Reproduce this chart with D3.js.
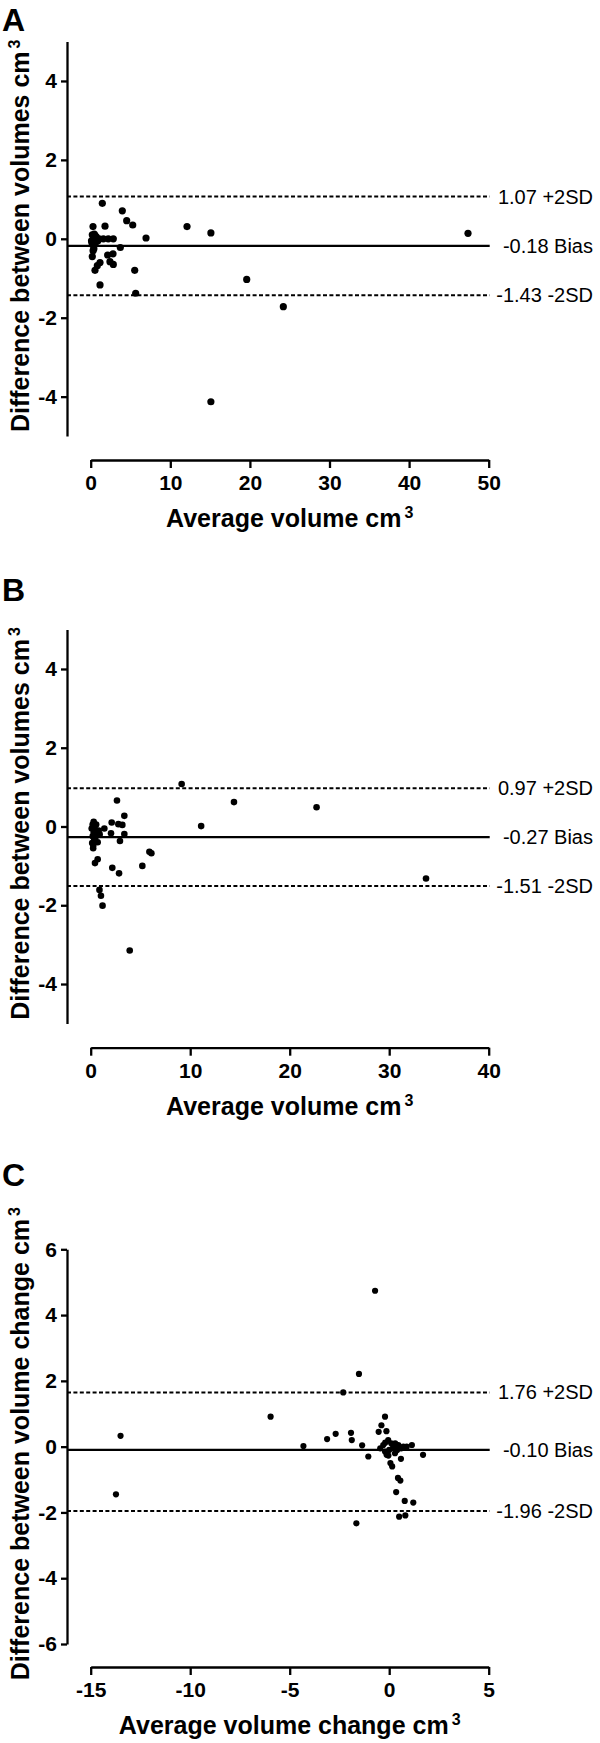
<!DOCTYPE html>
<html><head><meta charset="utf-8">
<script src="https://cdn.jsdelivr.net/npm/d3@7"></script>
<style>
body{margin:0;background:#fff;}
svg{display:block;}
text{font-family:"Liberation Sans",Arial,Helvetica,sans-serif;fill:#000;}
</style></head><body>
<svg id="chart" width="600" height="1743"></svg>
<script>
// ---------- Data ----------
// Panel A: [average volume, difference]
const pointsA = [
  [1.46,0.90],[3.97,0.71],[4.52,0.46],[5.28,0.35],[6.95,0.02],[12.1,0.31],[15.1,0.15],[47.4,0.14],
  [19.6,-1.03],[24.2,-1.72],[15.1,-4.13],[5.65,-1.38],[5.53,-0.80],[1.17,-1.17],[3.72,-0.22],
  [0.29,0.31],[1.80,0.32],[1.59,0.00],[2.21,0.00],[2.84,0.00],[0.20,-0.45],[2.13,-0.41],[2.80,-0.38],
  [1.17,-0.60],[0.83,-0.68],[0.54,-0.80],[2.42,-0.58],[2.84,-0.65],
  [0.20,0.10],[0.35,0.05],[0.50,0.00],[0.10,-0.05],[0.60,-0.10],[0.25,-0.15],[0.70,0.05],[0.40,-0.25],
  [0.45,0.12],[0.15,-0.10],[0.90,-0.05],[1.05,0.00],[0.30,-0.30],[0.55,0.08]
];
// Panel B
const pointsB = [
  [9.14,1.08],[14.4,0.62],[22.7,0.49],[11.1,0.01],[33.7,-1.32],
  [2.64,0.66],[3.38,0.27],[2.11,0.10],[2.78,0.06],[3.18,0.04],
  [2.04,-0.17],[3.38,-0.19],[2.94,-0.37],[1.37,-0.05],
  [5.9,-0.64],[6.1,-0.68],[5.19,-1.00],[2.17,-1.05],[2.85,-1.19],
  [3.92,-3.15],[0.88,-1.61],[1.03,-1.76],[1.19,-2.01],
  [0.70,-0.83],[0.43,-0.93],[0.26,-0.47],
  [0.30,0.12],[0.20,0.05],[0.40,0.00],[0.10,-0.05],[0.50,-0.10],[0.30,-0.15],[0.60,-0.20],[0.20,-0.25],
  [0.45,-0.30],[0.35,-0.35],[0.80,-0.10],[0.90,-0.20],[0.55,0.05],[0.70,-0.40],[0.15,-0.42],[0.25,-0.55]
];
// Panel C
const pointsC = [
  [-0.71,4.74],[-1.52,2.21],[-2.31,1.65],[-5.96,0.91],[-13.5,0.33],[-13.73,-1.45],
  [-4.31,0.02],[-3.12,0.23],[-2.69,0.39],[-1.92,0.42],[-1.88,0.20],[-1.36,0.04],[-1.05,-0.30],[-1.65,-2.33],
  [-0.21,0.91],[-0.39,0.65],[-0.14,0.47],[-0.53,0.45],
  [1.14,0.05],[1.70,-0.25],[0.59,-0.37],[0.35,-1.38],[0.44,-0.95],[0.56,-1.03],[0.78,-1.65],[1.21,-1.70],
  [0.50,-2.13],[0.81,-2.09],[0.15,-0.60],[0.06,-0.50],[-0.04,-0.27],
  [-0.30,0.05],[-0.05,0.20],[0.00,-0.10],[0.20,0.00],[0.46,0.05],[0.71,0.00],[0.88,0.00],[-0.21,-0.15],
  [0.29,-0.20],[-0.13,-0.25],[0.10,0.10],[-0.20,0.12],[0.30,0.10],[0.60,-0.05],[0.40,-0.10],[-0.45,-0.05]
];
// limits of agreement: [+2SD, bias, -2SD]
const limitsA = [1.07, -0.18, -1.43];
const limitsB = [0.97, -0.27, -1.51];
const limitsC = [1.76, -0.10, -1.96];
const linesC  = [1.65, -0.10, -1.96]; // where the lines are drawn in the source figure
const limitNames = ["+2SD", "Bias", "-2SD"];
const xTicksA = [0,10,20,30,40,50];
const xTicksB = [0,10,20,30,40];
const xTicksC = [-15,-10,-5,0,5];
const yTicksAB = [-4,-2,0,2,4];
const yTicksC = [-6,-4,-2,0,2,4,6];

// ---------- Drawing ----------
const svg = d3.select("#chart");
const AXIS_X = 67;
const X_RANGE = [90.7, 488.7];

function panel(cfg){
  const g = svg.append("g");
  const x = d3.scaleLinear().domain(cfg.xDomain).range(X_RANGE);
  const y = d3.scaleLinear().domain(cfg.yDomain).range(cfg.yRange);

  // panel letter
  g.append("text").attr("x", 2).attr("y", cfg.letterY)
    .attr("font-size", 32).attr("font-weight", "bold").text(cfg.letter);

  // y axis
  const ya = g.append("g").attr("transform", `translate(${AXIS_X},0)`)
    .call(d3.axisLeft(y).tickValues(cfg.yTicks).tickFormat(d => String(d))
      .tickSize(6).tickSizeOuter(0).tickPadding(4));
  // x axis
  const xa = g.append("g").attr("transform", `translate(0,${cfg.xAxisY})`)
    .call(d3.axisBottom(x).tickValues(cfg.xTicks).tickFormat(d => String(d))
      .tickSize(8).tickSizeOuter(0).tickPadding(7));
  [ya, xa].forEach(a => {
    a.select(".domain").attr("stroke", "#000").attr("stroke-width", 2.3);
    a.selectAll(".tick line").attr("stroke", "#000").attr("stroke-width", 2.3);
    a.selectAll(".tick text").attr("font-size", 21).attr("font-weight", "bold")
      .attr("font-family", '"Liberation Sans",Arial,sans-serif').attr("fill", "#000");
  });

  // reference lines
  const lineVals = cfg.lines || cfg.limits;
  lineVals.forEach((v, i) => {
    g.append("line").attr("x1", AXIS_X).attr("x2", X_RANGE[1] + 1)
      .attr("y1", y(v)).attr("y2", y(v))
      .attr("stroke", "#000").attr("stroke-width", i === 1 ? 2.3 : 2)
      .attr("stroke-dasharray", i === 1 ? null : "4,2.4");
    g.append("text").attr("x", 593).attr("y", y(v))
      .attr("text-anchor", "end").attr("dominant-baseline", "central")
      .attr("font-size", 20)
      .text(cfg.limits[i].toFixed(2) + " " + limitNames[i]);
  });

  // points
  g.append("g").selectAll("circle").data(cfg.points).join("circle")
    .attr("cx", d => x(d[0])).attr("cy", d => y(d[1])).attr("r", cfg.r).attr("fill", "#000");

  // x title
  const xt = g.append("text").attr("x", (X_RANGE[0] + X_RANGE[1]) / 2).attr("y", cfg.xAxisY + 67)
    .attr("text-anchor", "middle").attr("font-size", 25).attr("font-weight", "bold");
  xt.append("tspan").text(cfg.xTitle);
  xt.append("tspan").attr("dx", 3).attr("dy", -9).attr("font-size", 16).text("3");

  // y title
  const cy = (cfg.yRange[0] + cfg.yRange[1]) / 2 - 3;
  const yt = g.append("text").attr("transform", `translate(29,${cy}) rotate(-90)`)
    .attr("text-anchor", "middle").attr("font-size", 25).attr("font-weight", "bold");
  yt.append("tspan").text(cfg.yTitle);
  yt.append("tspan").attr("dx", 3).attr("dy", -9).attr("font-size", 16).text("3");
}

panel({letter:"A", letterY:31, xDomain:[0,50], xTicks:xTicksA, yDomain:[-5,5], yRange:[436.1,41.5],
  yTicks:yTicksAB, xAxisY:460, xTitle:"Average volume cm", yTitle:"Difference between volumes cm",
  points:pointsA, limits:limitsA, r:3.6});
panel({letter:"B", letterY:601, xDomain:[0,40], xTicks:xTicksB, yDomain:[-5,5], yRange:[1023.4,629.6],
  yTicks:yTicksAB, xAxisY:1047.7, xTitle:"Average volume cm", yTitle:"Difference between volumes cm",
  points:pointsB, limits:limitsB, r:3.3});
panel({letter:"C", letterY:1186, xDomain:[-15,5], xTicks:xTicksC, yDomain:[-6,6], yRange:[1644,1249.3],
  yTicks:yTicksC, xAxisY:1667, xTitle:"Average volume change cm", yTitle:"Difference between volume change cm",
  points:pointsC, limits:limitsC, lines:linesC, r:3.1});
</script>
</body></html>
